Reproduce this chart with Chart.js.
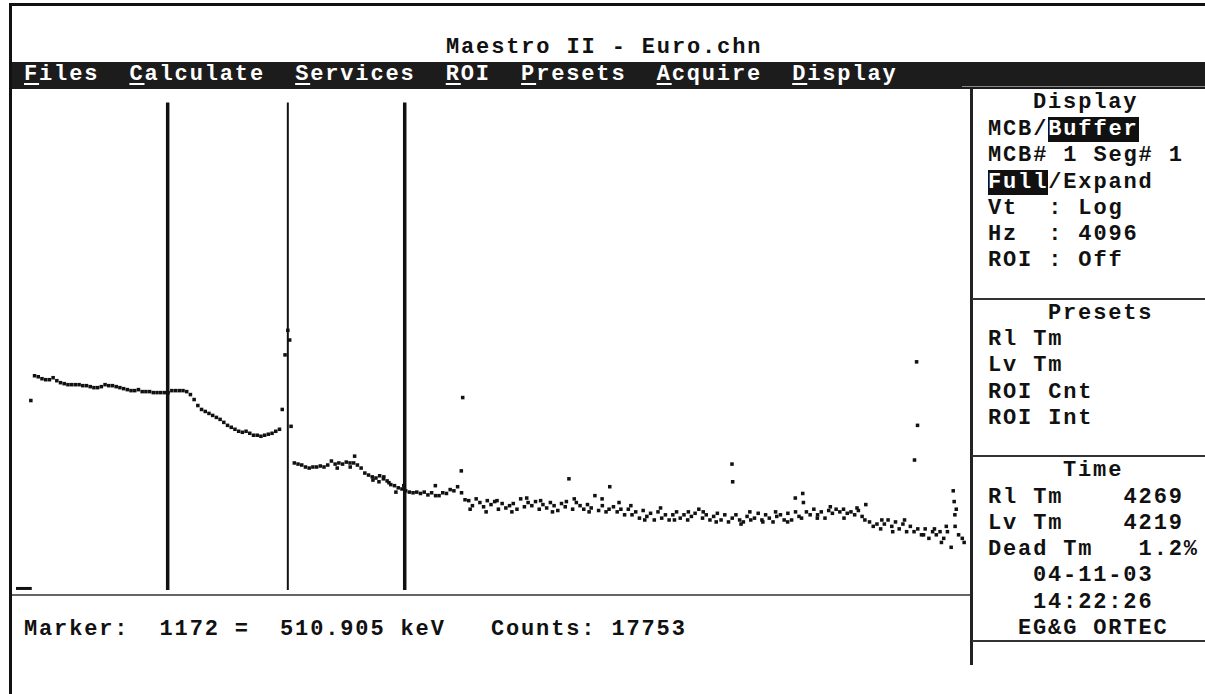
<!DOCTYPE html>
<html>
<head>
<meta charset="utf-8">
<title>Maestro II - Euro.chn</title>
<script src="https://cdn.jsdelivr.net/npm/chart.js@4.4.1/dist/chart.umd.min.js"></script>
<style>
  html, body { margin: 0; padding: 0; background: #fff; }
  body { width: 1205px; height: 694px; position: relative; overflow: hidden; }
  .t {
    position: absolute;
    font-family: "Liberation Mono", "DejaVu Sans Mono", monospace;
    font-weight: bold;
    font-size: 22px;
    letter-spacing: 1.86px;
    line-height: 26px;
    height: 26px;
    white-space: pre;
    color: #111;
  }
  .rule { position: absolute; background: #111; }
  .inv { background: #111; color: #fff; }
  #menu { color: #fff; }
  #menu u { text-decoration-thickness: 2px; text-underline-offset: 3px; }
  #plot { position: absolute; left: 12px; top: 90px; }
</style>
</head>
<body>

<!-- frame -->
<div class="rule" style="left:9px;top:3px;width:1196px;height:3px;"></div>
<div class="rule" style="left:9px;top:3px;width:3px;height:691px;"></div>

<div class="t" style="left:446px;top:35px;">Maestro II - Euro.chn</div>

<div class="rule" style="left:12px;top:62px;width:1193px;height:27px;background:#1c1c1c;"></div>
<div class="rule" style="left:962px;top:86px;width:243px;height:1px;background:#8a8a8a;"></div>
<div class="t" id="menu" style="left:24px;top:62px;"><u>F</u>iles  <u>C</u>alculate  <u>S</u>ervices  <u>R</u>OI  <u>P</u>resets  <u>A</u>cquire  <u>D</u>isplay</div>

<!-- side panel -->
<div class="rule" style="left:970px;top:89px;width:3px;height:576px;background:#222;"></div>
<div class="rule" style="left:972px;top:298px;width:233px;height:2px;background:#333;"></div>
<div class="rule" style="left:972px;top:455px;width:233px;height:2px;background:#333;"></div>
<div class="rule" style="left:972px;top:640px;width:233px;height:2px;background:#333;"></div>

<div class="t" style="left:1033px;top:90px;">Display</div>
<div class="t" style="left:988px;top:117px;">MCB/<span class="inv">Buffer</span></div>
<div class="t" style="left:988px;top:143px;">MCB# 1 Seg# 1</div>
<div class="t" style="left:988px;top:170px;"><span class="inv">Full</span>/Expand</div>
<div class="t" style="left:988px;top:196px;">Vt  : Log</div>
<div class="t" style="left:988px;top:222px;">Hz  : 4096</div>
<div class="t" style="left:988px;top:248px;">ROI : Off</div>

<div class="t" style="left:1048px;top:301px;">Presets</div>
<div class="t" style="left:988px;top:327px;">Rl Tm</div>
<div class="t" style="left:988px;top:353px;">Lv Tm</div>
<div class="t" style="left:988px;top:380px;">ROI Cnt</div>
<div class="t" style="left:988px;top:406px;">ROI Int</div>

<div class="t" style="left:1063px;top:458px;">Time</div>
<div class="t" style="left:988px;top:485px;">Rl Tm    4269</div>
<div class="t" style="left:988px;top:511px;">Lv Tm    4219</div>
<div class="t" style="left:988px;top:537px;">Dead Tm   1.2%</div>
<div class="t" style="left:1033px;top:563px;">04-11-03</div>
<div class="t" style="left:1033px;top:590px;">14:22:26</div>
<div class="t" style="left:1018px;top:616px;">EG&amp;G ORTEC</div>

<!-- spectrum window -->
<canvas id="plot" width="958" height="504"></canvas>
<div class="rule" style="left:12px;top:594px;width:958px;height:2px;background:#666;"></div>

<div class="t" style="left:24px;top:617px;">Marker:  1172 =  510.905 keV   Counts: 17753</div>

<script>
const channels = [
    64, 80, 96, 112, 128, 144, 160, 176, 192, 208, 224, 240, 256, 272, 288, 304, 320, 336, 352, 368,
    384, 400, 416, 432, 448, 464, 480, 496, 512, 528, 544, 560, 576, 592, 608, 624, 640, 656, 672, 688, 704, 720, 736, 752,
    768, 784, 800, 816, 832, 848, 864, 880, 896, 912, 928, 944, 960, 976, 992, 1008, 1024, 1040, 1056, 1072, 1088, 1104, 1120, 1136,
    1148, 1160, 1172, 1180, 1186,
    1200, 1216, 1232, 1248, 1264, 1280, 1296, 1312, 1328, 1344, 1360, 1376, 1385, 1392, 1408, 1424, 1440, 1441, 1456, 1460,
    1472, 1488, 1504, 1520, 1536, 1539, 1552, 1565, 1568, 1584, 1586, 1600, 1608, 1616, 1632, 1638, 1648, 1664, 1672,
    1680, 1696, 1712, 1728, 1744, 1760, 1776, 1792, 1808, 1809, 1824, 1840, 1856, 1872, 1888, 1904, 1920, 1921, 1926,
    1936, 1952, 1958, 1968, 1984, 2000, 2016, 2027, 2032, 2048, 2064, 2074, 2080, 2096, 2112, 2128, 2138, 2144, 2160, 2176, 2192, 2202, 2208, 2224, 2240,
    2256, 2262, 2272, 2288, 2304, 2313, 2320, 2336, 2352, 2368, 2373, 2384, 2400, 2407, 2416, 2432, 2448, 2464, 2471, 2480, 2496, 2512, 2527, 2528, 2544, 2557, 2560,
    2576, 2592, 2600, 2608, 2624, 2640, 2651, 2656, 2672, 2688, 2704, 2711, 2720, 2736, 2752, 2768, 2779, 2784, 2800, 2816, 2832, 2839, 2848, 2864, 2880,
    2896, 2899, 2912, 2928, 2944, 2960, 2963, 2976, 2992, 3008, 3019, 3024, 3040, 3056, 3072, 3087, 3088, 3090, 3104, 3120, 3126, 3136, 3152, 3164, 3168, 3184, 3200,
    3216, 3220, 3232, 3248, 3264, 3275, 3280, 3296, 3312, 3327, 3328, 3344, 3360, 3361, 3376, 3387, 3392, 3395, 3408, 3424, 3440, 3455, 3456, 3472, 3488, 3504, 3511, 3520,
    3536, 3552, 3568, 3570, 3584, 3600, 3616, 3626, 3632, 3648, 3660, 3664, 3680, 3696, 3712, 3728, 3733, 3744, 3760, 3776, 3780, 3792, 3808, 3824, 3831, 3840,
    3856, 3872, 3874, 3883, 3887, 3888, 3904, 3913, 3920, 3936, 3952, 3960, 3968, 3984, 3990, 4000, 4011, 4016, 4032, 4041, 4045, 4048, 4049, 4054, 4064, 4080, 4088
];
const counts = [
    1261, 3210, 3090, 2870, 2765, 2765, 2980, 2663, 2472, 2381, 2293, 2293, 2293, 2293, 2209, 2209, 2128, 2050, 2050, 2128,
    2293, 2209, 2209, 2128, 2050, 1974, 1902, 1832, 1832, 1902, 1765, 1765, 1765, 1700, 1700, 1700, 1700, 1700, 1832, 1832, 1832, 1832, 1765, 1578,
    1309, 1045, 901, 836, 776, 720, 668, 620, 554, 495, 460, 427, 396, 381, 396, 367, 341, 341, 328, 341, 354, 367, 396, 427,
    901, 7040, 17753, 12330, 477,
    120, 115, 111, 103, 99, 103, 103, 107, 103, 111, 129, 115, 99, 120, 115, 124, 120, 103, 120, 155,
    111, 99, 82, 76, 71, 63, 68, 59, 74, 66, 71, 61, 57, 53, 51, 40, 47, 45, 51,
    42, 40, 39, 40, 38, 40, 36, 39, 51, 35, 35, 39, 38, 44, 42, 49, 89, 39, 1410,
    30, 29, 21, 24, 31, 27, 23, 19, 29, 25, 28, 29, 21, 26, 22, 24, 19, 26, 21, 31, 23, 32, 27, 24, 28,
    21, 29, 25, 22, 27, 19, 24, 20, 26, 23, 28, 66, 21, 31, 27, 24, 21, 25, 19, 22, 35, 20, 31, 24, 19, 21, 49,
    23, 19, 27, 21, 17, 21, 24, 17, 19, 15, 20, 14, 16, 18, 14, 19, 22, 15, 17, 14, 17, 14, 19, 15, 17,
    14, 19, 16, 18, 21, 15, 19, 17, 14, 16, 13, 18, 14, 17, 13, 115, 15, 59, 17, 14, 12, 13, 16, 19, 14, 15, 18,
    14, 13, 17, 15, 13, 19, 16, 17, 14, 13, 18, 14, 32, 19, 16, 15, 38, 27, 19, 17, 21, 15, 17, 19, 15, 20, 23, 18,
    21, 19, 21, 15, 18, 19, 17, 22, 20, 16, 14, 25, 13, 11, 12, 10, 14, 12, 14, 11, 9, 13, 10, 12, 14, 9,
    11, 9, 134, 5420, 495, 10, 8, 8, 10, 7, 9, 10, 8, 9, 6, 7, 11, 9, 5, 42, 28, 17, 11, 21, 8, 7, 6
];

// ROI / marker cursors (channel), marker is at 1172 = 510.905 keV
const markerChannels = [654, 1172, 1676];
const markerCounts = [1, 9.5e7];
// zero-level tick at the left of the window
const baseChannels = [0, 68];
const baseCount = 1.06;

const ink = '#111';

const markerSets = markerChannels.map(ch => ({
    type: 'line',
    data: markerCounts.map(v => ({ x: ch, y: v })),
    borderColor: ink,
    borderWidth: ch === 1172 ? 2 : 3.5,
    pointRadius: 0,
    clip: false
}));

new Chart(document.getElementById('plot'), {
    type: 'scatter',
    data: {
        datasets: [
            {
                data: channels.map((c, i) => ({ x: c, y: counts[i] })),
                pointStyle: 'rect',
                pointRadius: 2.5,
                pointBorderWidth: 0,
                backgroundColor: ink,
                borderColor: ink,
                clip: false
            },
            ...markerSets,
            {
                type: 'line',
                data: baseChannels.map(c => ({ x: c, y: baseCount })),
                borderColor: ink,
                borderWidth: 3,
                pointRadius: 0,
                clip: false
            }
        ]
    },
    options: {
        responsive: false,
        animation: false,
        devicePixelRatio: 1,
        layout: { padding: { left: 0, right: 0, top: 0, bottom: 4 } },
        plugins: { legend: { display: false }, tooltip: { enabled: false } },
        scales: {
            x: { type: 'linear', min: 0, max: 4096, display: false },
            y: { type: 'logarithmic', min: 1, max: 1.31e8, display: false }
        }
    }
});
</script>
</body>
</html>
